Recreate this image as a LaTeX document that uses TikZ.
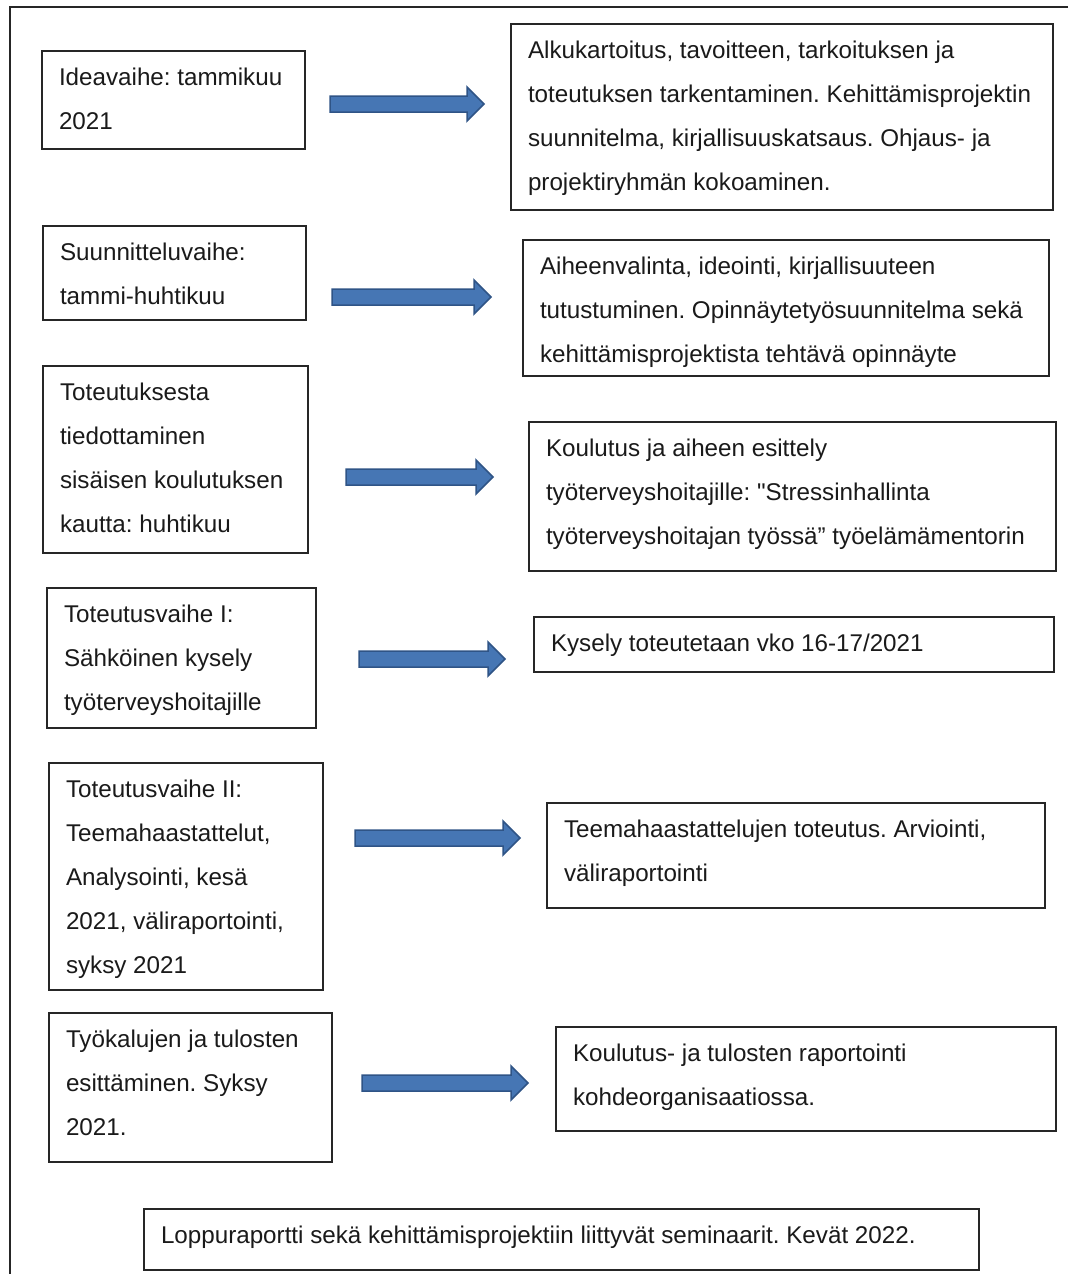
\documentclass[tikz,border=0pt]{standalone}
\usepackage{fontspec}
\setmainfont{Liberation Sans}
\newfontfamily\rawquote{Liberation Sans}
\usetikzlibrary{calc}
\definecolor{arrowfill}{HTML}{4676B4}
\definecolor{arrowline}{HTML}{2F5486}
\definecolor{inkgray}{HTML}{1A1A1A}
% box from pixel corners (x1,y1)-(x2,y2), text top-anchored
\newcommand\phasebox[6]{%
  \pgfmathsetmacro\pbw{#4-#2}%
  \pgfmathsetmacro\pbh{#5-#3}%
  \node[phase] (#1) at ({(#2+#4)/2},{(#3+#5)/2})
    {\parbox[c][\pbh pt][t]{\pbw pt}{\frenchspacing\raggedright\leftskip=17pt\rule{0pt}{34pt}#6}};}
\newcommand\blockarrow[2]{%
  \draw[blockarrow] ($(#1)+(0,-8)$) -- ($(#2)+(-17,-8)$) -- ($(#2)+(-17,-17)$) -- (#2)
    -- ($(#2)+(-17,17)$) -- ($(#2)+(-17,8)$) -- ($(#1)+(0,8)$) -- cycle;}
\begin{document}
\begin{tikzpicture}[x=1pt,y=-1pt,
  phase/.style={draw=black!85, line width=1.3pt, rectangle, inner sep=0pt, outer sep=0pt,
    font=\fontsize{24.2}{44}\selectfont, text=inkgray},
  blockarrow/.style={fill=arrowfill, draw=arrowline, line width=1.5pt, line join=miter},
  frameline/.style={draw=black!85, line width=1.4pt}]
\useasboundingbox (0,0) rectangle (1068,1274);
\fill[white] (0,0) rectangle (1068,1274);
% outer frame
\draw[frameline] (1068,7) -- (10,7) -- (10,1274);
% left column
\phasebox{L1}{42}{51}{305}{149}{Ideavaihe: tammikuu\\2021}
\phasebox{L2}{43}{226}{306}{320}{Suunnitteluvaihe:\\tammi-huhtikuu}
\phasebox{L3}{43}{366}{308}{553}{Toteutuksesta\\tiedottaminen\\sisäisen koulutuksen\\kautta: huhtikuu}
\phasebox{L4}{47}{588}{316}{728}{Toteutusvaihe I:\\Sähköinen kysely\\työterveyshoitajille}
\phasebox{L5}{49}{763}{323}{990}{Toteutusvaihe II:\\Teemahaastattelut,\\Analysointi, kesä\\2021, väliraportointi,\\syksy 2021}
\phasebox{L6}{49}{1013}{332}{1162}{Työkalujen ja tulosten\\esittäminen. Syksy\\2021.}
% right column
\phasebox{R1}{511}{24}{1053}{210}{Alkukartoitus, tavoitteen, tarkoituksen ja\\toteutuksen tarkentaminen. Kehittämisprojektin\\suunnitelma, kirjallisuuskatsaus. Ohjaus- ja\\projektiryhmän kokoaminen.}
\phasebox{R2}{523}{240}{1049}{376}{Aiheenvalinta, ideointi, kirjallisuuteen\\tutustuminen. Opinnäytetyösuunnitelma sekä\\kehittämisprojektista tehtävä opinnäyte}
\phasebox{R3}{529}{422}{1056}{571}{Koulutus ja aiheen esittely\\työterveyshoitajille: {\rawquote"}Stressinhallinta\\työterveyshoitajan työssä” työelämämentorin}
\phasebox{R4}{534}{617}{1054}{672}{Kysely toteutetaan vko 16-17/2021}
\phasebox{R5}{547}{803}{1045}{908}{Teemahaastattelujen toteutus. Arviointi,\\väliraportointi}
\phasebox{R6}{556}{1027}{1056}{1131}{Koulutus- ja tulosten raportointi\\kohdeorganisaatiossa.}
% bottom
\phasebox{B}{144}{1209}{979}{1270}{Loppuraportti sekä kehittämisprojektiin liittyvät seminaarit. Kevät 2022.}
% arrow end points
\coordinate (a1s) at (330,104);  \coordinate (a1e) at (484,104);
\coordinate (a2s) at (332,297);  \coordinate (a2e) at (491,297);
\coordinate (a3s) at (346,477);  \coordinate (a3e) at (493,477);
\coordinate (a4s) at (359,659);  \coordinate (a4e) at (505,659);
\coordinate (a5s) at (355,838);  \coordinate (a5e) at (520,838);
\coordinate (a6s) at (362,1083); \coordinate (a6e) at (528,1083);
\blockarrow{a1s}{a1e}
\blockarrow{a2s}{a2e}
\blockarrow{a3s}{a3e}
\blockarrow{a4s}{a4e}
\blockarrow{a5s}{a5e}
\blockarrow{a6s}{a6e}
\end{tikzpicture}
\end{document}
